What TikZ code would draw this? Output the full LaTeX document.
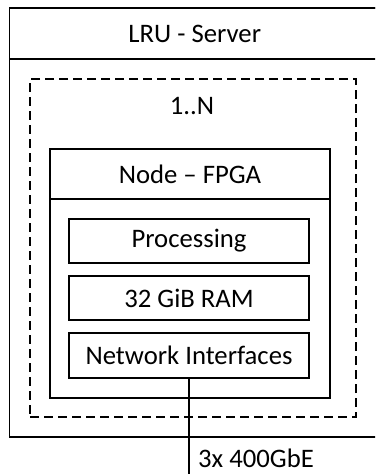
\documentclass[tikz,border=0pt]{standalone}
\usepackage{fontspec}
\setmainfont{Carlito}
\begin{document}
\begin{tikzpicture}[x=1pt,y=-1pt,
  box/.style={draw, line width=1.2pt, inner sep=0pt, align=center},
  lbl/.style={inner sep=0pt},
  font=\fontsize{26.7}{32}\selectfont]
\useasboundingbox (0,0) rectangle (375,474);
\begin{scope}
\clip (0,0) rectangle (375,474);
% outer LRU
\node[box, minimum width=370.5pt, minimum height=429pt] (lru) at (194.75,222.5) {};
\node[box, minimum width=370.5pt, minimum height=51pt] (lruhead) at (194.75,33.5) {LRU - Server};
\end{scope}
% dashed 1..N
\node[box, dash pattern=on 9pt off 5pt, minimum width=326pt, minimum height=338pt] (multi) at (193,248) {};
\node[lbl] (mult) at (192,106) {1..N};
% FPGA
\node[box, minimum width=280pt, minimum height=249pt] (fpga) at (190,273.5) {};
\node[box, minimum width=280pt, minimum height=50pt] (fpgahead) at (190,174) {Node – FPGA};
% inner
\node[box, minimum width=240pt, minimum height=44pt] (proc) at (189,241) {Processing};
\node[box, minimum width=240pt, minimum height=44pt] (ram) at (189,298) {32 GiB RAM};
\node[box, minimum width=240pt, minimum height=45pt] (net) at (189,355.5) {Network Interfaces};
\coordinate (out) at (189,476);
\draw[line width=1.2pt] (net.south) -- (out);
\node[lbl, anchor=west] (eth) at (198,458) {3x 400GbE};
\end{tikzpicture}
\end{document}
